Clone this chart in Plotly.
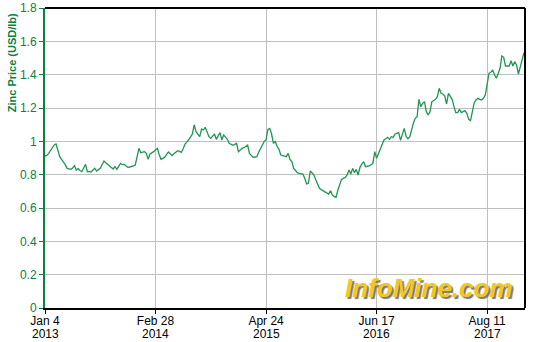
import pandas as pd
import plotly.graph_objects as go

start_date = "2013-01-04"
n_weeks = 261
dates = pd.date_range(start_date, periods=n_weeks, freq="7D")

prices = [
    0.912, 0.915, 0.928, 0.945, 0.968, 0.978, 0.984, 0.950, 0.908, 0.892,
    0.878, 0.860, 0.838, 0.836, 0.832, 0.840, 0.854, 0.828, 0.836, 0.825,
    0.818, 0.840, 0.862, 0.818, 0.820, 0.816, 0.825, 0.838, 0.822, 0.830,
    0.838, 0.860, 0.882, 0.872, 0.862, 0.858, 0.845, 0.834, 0.848, 0.832,
    0.850, 0.868, 0.860, 0.862, 0.852, 0.844, 0.846, 0.848, 0.852, 0.858,
    0.910, 0.958, 0.932, 0.935, 0.938, 0.928, 0.892, 0.924, 0.930, 0.938,
    0.948, 0.958, 0.920, 0.892, 0.898, 0.905, 0.922, 0.936, 0.925, 0.914,
    0.925, 0.935, 0.944, 0.940, 0.934, 0.955, 0.984, 0.995, 1.008, 1.025,
    1.044, 1.098, 1.058, 1.040, 1.028, 1.074, 1.068, 1.084, 1.050, 1.028,
    1.018, 1.030, 1.044, 1.012, 1.035, 1.052, 1.008, 1.038, 1.025, 1.012,
    0.988, 0.982, 0.976, 0.982, 0.988, 0.938, 0.950, 0.958, 0.962, 0.968,
    0.978, 0.928, 0.915, 0.904, 0.906, 0.908, 0.935, 0.958, 0.980, 1.000,
    1.008, 1.072, 1.078, 1.044, 0.988, 0.998, 0.970, 0.952, 0.918, 0.915,
    0.912, 0.908, 0.928, 0.892, 0.878, 0.838, 0.825, 0.812, 0.808, 0.806,
    0.804, 0.778, 0.744, 0.748, 0.822, 0.810, 0.798, 0.770, 0.748, 0.718,
    0.710, 0.704, 0.698, 0.692, 0.684, 0.704, 0.678, 0.670, 0.664, 0.708,
    0.740, 0.772, 0.778, 0.784, 0.798, 0.828, 0.804, 0.838, 0.812, 0.832,
    0.798, 0.844, 0.864, 0.878, 0.848, 0.850, 0.852, 0.860, 0.868, 0.938,
    0.898, 0.925, 0.952, 0.972, 1.008, 1.015, 1.024, 1.012, 1.028, 1.024,
    1.044, 1.048, 1.052, 1.006, 1.048, 1.078, 1.032, 1.015, 1.026, 1.078,
    1.110, 1.138, 1.148, 1.252, 1.208, 1.228, 1.238, 1.178, 1.158, 1.178,
    1.238, 1.245, 1.252, 1.268, 1.318, 1.288, 1.284, 1.272, 1.224, 1.288,
    1.272, 1.252, 1.210, 1.172, 1.172, 1.192, 1.172, 1.178, 1.184, 1.168,
    1.132, 1.124, 1.180, 1.232, 1.248, 1.258, 1.252, 1.248, 1.258, 1.278,
    1.340, 1.408, 1.414, 1.428, 1.400, 1.378, 1.405, 1.438, 1.512, 1.504,
    1.452, 1.450, 1.452, 1.484, 1.452, 1.478, 1.458, 1.404, 1.444, 1.478,
    1.532,
]

tick_dates = ["2013-01-04", "2014-02-28", "2015-04-24", "2016-06-17", "2017-08-11"]
tick_days = ["Jan 4", "Feb 28", "Apr 24", "Jun 17", "Aug 11"]
tick_years = ["2013", "2014", "2015", "2016", "2017"]
x_end = "2018-01-02"

GREEN = "#0b8040"
LINE = "#1f9654"
GRID = "#c0c0c0"
FONT = "Liberation Sans, Arial, sans-serif"

fig = go.Figure()
fig.add_trace(go.Scatter(x=dates, y=prices, mode="lines",
                         line=dict(color=LINE, width=1.3), hoverinfo="skip"))

fig.update_layout(
    width=544, height=342,
    margin=dict(l=45, r=19, t=8, b=34, autoexpand=False),
    paper_bgcolor="white", plot_bgcolor="white",
    showlegend=False,
    font=dict(family=FONT, size=12, color="black"),
)
fig.update_xaxes(
    range=[start_date, x_end], automargin=False,
    tickvals=tick_dates, ticktext=tick_days,
    showgrid=True, gridcolor=GRID, gridwidth=1,
    showline=True, linecolor="black", linewidth=2,
    ticks="outside", ticklen=4, tickcolor="black",
    ticklabelstandoff=-3,
    tickfont=dict(family=FONT, size=12, color="black"),
    zeroline=False,
)
fig.update_yaxes(
    range=[0, 1.8], dtick=0.2, tick0=0, automargin=False,
    showgrid=True, gridcolor=GRID, gridwidth=1,
    showline=True, linecolor=GREEN, linewidth=2,
    ticks="outside", ticklen=4, tickcolor=GREEN,
    tickfont=dict(family=FONT, size=12, color=GREEN),
    zeroline=False,
)
# top and right frame lines
fig.add_shape(type="line", xref="paper", yref="paper", x0=0, x1=1, y0=1, y1=1,
              line=dict(color="black", width=2))
fig.add_shape(type="line", xref="paper", yref="paper", x0=1, x1=1, y0=0, y1=1,
              line=dict(color="black", width=2))

for d, yr in zip(tick_dates, tick_years):
    fig.add_annotation(text=yr, xref="x", yref="paper", x=d, y=0,
                       xanchor="center", yanchor="top", yshift=-17,
                       showarrow=False,
                       font=dict(family=FONT, size=12, color="black"))

fig.add_annotation(text="<b>Zinc Price (USD/lb)</b>", textangle=-90,
                   xref="paper", yref="paper", x=-0.068, y=0.817,
                   xanchor="center", yanchor="middle", showarrow=False,
                   font=dict(family=FONT, size=11, color=GREEN))

fig.add_annotation(text="<b><i>InfoMine.com</i></b>",
                   xref="paper", yref="paper", x=0.98, y=0.01,
                   xanchor="right", yanchor="bottom", showarrow=False,
                   font=dict(family=FONT, size=26, color="#f2c81c",
                             shadow="2px 2px 1px #777"))

fig.write_html("out.html")
